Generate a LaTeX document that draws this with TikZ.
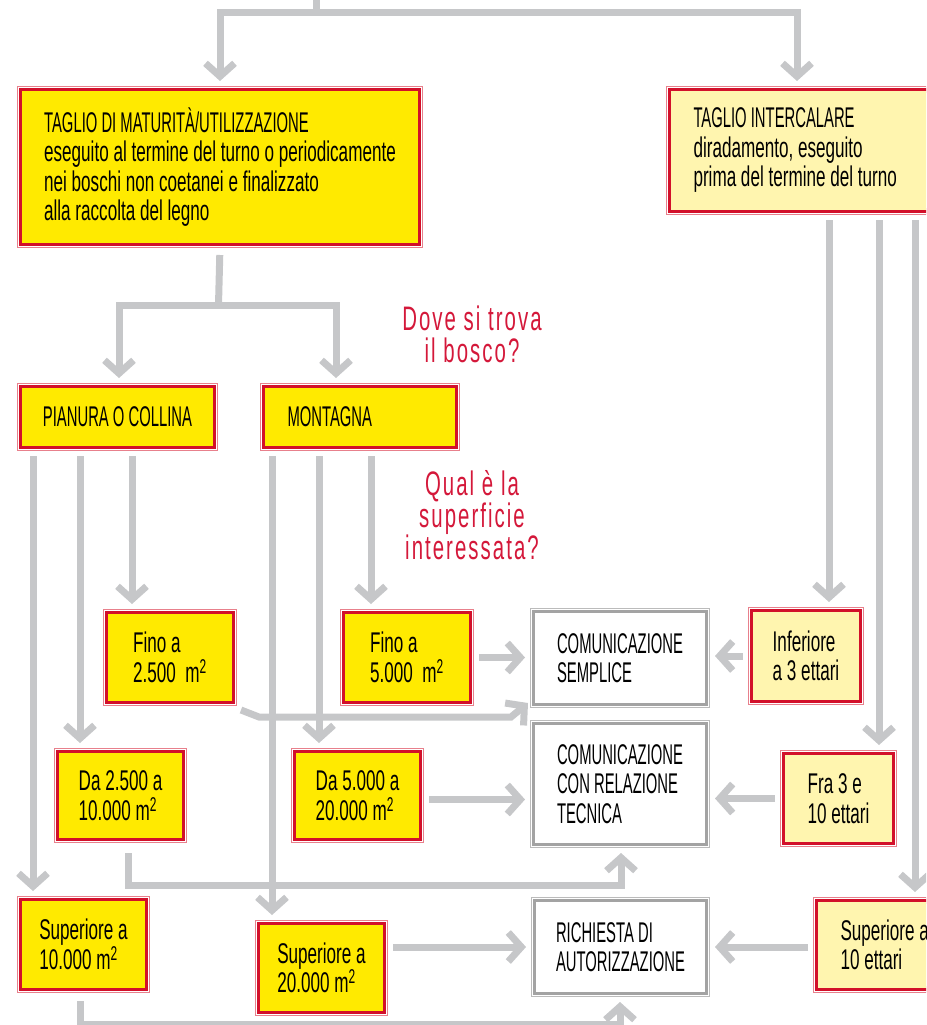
\documentclass[tikz,border=0pt]{standalone}
\usepackage{fontspec}
\usetikzlibrary{arrows.meta,calc}

\newfontfamily\lowf{Liberation Sans}[FakeStretch=0.6]
\newfontfamily\capsf{Liberation Sans}[FakeStretch=0.52]
\newfontfamily\qfont{Liberation Sans}[FakeStretch=0.6,LetterSpace=6]

\definecolor{boxyellow}{HTML}{FFEA00}
\definecolor{paleyellow}{HTML}{FFF5AF}
\definecolor{boxred}{HTML}{D2102A}
\definecolor{boxpink}{HTML}{E8808C}
\definecolor{boxgrey}{HTML}{A3A3A3}
\definecolor{greyrim}{HTML}{BBBBBB}
\definecolor{arrowgrey}{HTML}{C6C7C9}
\definecolor{qred}{HTML}{D4183A}

\tikzset{
  flowbox/.style={anchor=north west, align=flush left, text=black,
    font=\fontsize{28.5}{29.5}\selectfont\lowf},
  leftset/.style={text width=#1, inner xsep=24pt},
  capsnode/.style={font=\fontsize{28.5}{29.5}\selectfont\capsf},
  redbox/.style={flowbox, fill=boxyellow, draw=boxred, line width=3pt,
    preaction={draw=boxpink, line width=6.6pt},
    preaction={draw=white, line width=4.8pt}},
  paleredbox/.style={redbox, fill=paleyellow},
  greybox/.style={flowbox, capsnode, fill=white, draw=boxgrey, line width=3pt,
    preaction={draw=greyrim, line width=6.6pt},
    preaction={draw=white, line width=4.8pt}},
  wire/.style={draw=arrowgrey, line width=7pt, shorten <=7pt},
  arr/.style={wire, shorten >=7pt, -{Straight Barb[sharp, length=13pt, width=29pt]}},
  question/.style={font=\fontsize{34}{32}\selectfont\qfont, text=qred, align=center}
}

\begin{document}
\begin{tikzpicture}[x=1pt,y=-1pt]
  \useasboundingbox (0,0) rectangle (926,1025);
  \clip (0,0) rectangle (926,1025);

  % Type of cut
  \node[redbox, minimum width=399pt, minimum height=155pt] (matur) at (19,88)
    {\capsf TAGLIO DI MATURITÀ/UTILIZZAZIONE\\ \lowf eseguito al termine del turno o periodicamente\\ nei boschi non coetanei e finalizzato\\ alla raccolta del legno};
  \node[paleredbox, leftset=252pt, minimum width=300pt, minimum height=122pt] (inter) at (668,88)
    {\capsf TAGLIO INTERCALARE\\ \lowf diradamento, eseguito\\ prima del termine del turno};

  % Where is the wood?
  \node[redbox, capsnode, minimum width=194pt, minimum height=61pt] (pian) at (19,385) {PIANURA O COLLINA};
  \node[redbox, capsnode, leftset=145pt, minimum width=193pt, minimum height=61pt] (mont) at (262,385) {MONTAGNA};

  % Surface
  \node[redbox, minimum width=127pt, minimum height=90pt] (fino25) at (105,611) {Fino a\\ 2.500\ \ m\textsuperscript{2}};
  \node[redbox, minimum width=127pt, minimum height=90pt] (fino5) at (342,611) {Fino a\\ 5.000\ \ m\textsuperscript{2}};
  \node[redbox, minimum width=126pt, minimum height=88pt] (da25) at (56,750) {Da 2.500 a\\ 10.000 m\textsuperscript{2}};
  \node[redbox, minimum width=126pt, minimum height=88pt] (da5) at (293,750) {Da 5.000 a\\ 20.000 m\textsuperscript{2}};
  \node[redbox, minimum width=126pt, minimum height=90pt] (sup10k) at (19,898) {Superiore a\\ 10.000 m\textsuperscript{2}};
  \node[redbox, minimum width=126pt, minimum height=89pt] (sup20k) at (257,922) {Superiore a\\ 20.000 m\textsuperscript{2}};
  \node[paleredbox, minimum width=109pt, minimum height=91pt] (inf3) at (750,609) {Inferiore\\ a 3 ettari};
  \node[paleredbox, minimum width=110pt, minimum height=90pt] (fra) at (782,752) {Fra 3 e\\ 10 ettari};
  \node[paleredbox, leftset=102pt, minimum width=150pt, minimum height=89pt] (sup10ha) at (815,899) {Superiore a\\ 10 ettari};

  % Outcome
  \node[greybox, minimum width=173pt, minimum height=93pt] (semp) at (532,610) {COMUNICAZIONE\\ SEMPLICE};
  \node[greybox, minimum width=173pt, minimum height=121pt] (rel) at (532,722) {COMUNICAZIONE\\ CON RELAZIONE\\ TECNICA};
  \node[greybox, minimum width=172pt, minimum height=93pt] (rich) at (533,899) {RICHIESTA DI\\ AUTORIZZAZIONE};

  % Questions
  \node[question] (qwhere) at (472,334) {Dove si trova\\ il bosco?};
  \node[question] (qarea) at (472,515) {Qual è la\\ superficie\\ interessata?};

  % Top split
  \coordinate (feed) at (316,0);
  \coordinate (fork) at (316,12.5);
  \draw[wire, shorten <=0pt] (feed) -- (316,16);
  \draw[arr, shorten <=0pt] (fork) -| (matur.north);
  \draw[arr, shorten <=0pt] (fork) -| ([xshift=129pt]inter.north west);

  % Split by location
  \coordinate (split) at (218.5,305);
  \draw[wire, shorten <=9pt] (matur.south) -- (split);
  \draw[arr, shorten <=0pt] (split) -| (pian.north -| 119,0);
  \draw[arr, shorten <=0pt] (split) -| (mont.north -| 336,0);

  % Split by surface
  \foreach \x/\target in {33/sup10k, 80/da25, 132/fino25}
    \draw[arr] (pian.south -| \x,0) -- (\target.north -| \x,0);
  \foreach \x/\target in {272/sup20k, 319/da5, 371/fino5}
    \draw[arr] (mont.south -| \x,0) -- (\target.north -| \x,0);
  \foreach \x/\target in {829/inf3, 879/fra, 915/sup10ha}
    \draw[arr] (inter.south -| \x,0) -- (\target.north -| \x,0);

  % Into the outcomes
  \draw[arr] (fino5.east) -- (fino5.east -| semp.west);
  \draw[arr] (inf3.west) -- (inf3.west -| semp.east);
  \draw[arr] ([yshift=-4pt]da5.east) -- ([yshift=-4pt]da5.east -| rel.west);
  \draw[arr] (fra.west) -- (fra.west -| rel.east);
  \draw[arr] (sup20k.east |- rich.west) -- (rich.west);
  \draw[arr] (sup10ha.west |- rich.east) -- (rich.east);
  \draw[arr, shorten <=0pt, shorten >=0pt] ($(fino25.south east)+(6,6)$) -- ++(18,7) -- ++(252,0) -- ($(semp.south west)+(-4,-3)$);
  \draw[arr, shorten <=12pt] (da25.south -| 128,0) -- ++(0,44) -| (rel.south -| 621,0);
  \draw[arr, shorten <=10pt] (sup10k.south -| 80,0) -- ++(0,33) -| (rich.south -| 620,0);
\end{tikzpicture}
\end{document}
